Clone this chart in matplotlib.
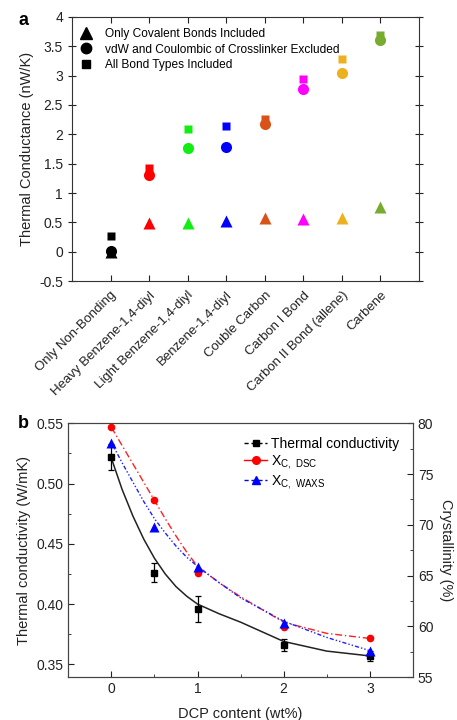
import numpy as np
import matplotlib
matplotlib.use("Agg")
import matplotlib.pyplot as plt
from matplotlib.lines import Line2D

plt.rcParams['font.family'] = ['Liberation Sans', 'DejaVu Sans']
plt.rcParams['mathtext.fontset'] = 'custom'
plt.rcParams['mathtext.rm'] = 'Liberation Sans'

# ---- panel a data
categories = ['Only Non-Bonding', 'Heavy Benzene-1,4-diyl', 'Light Benzene-1,4-diyl',
              'Benzene-1,4-diyl', 'Couble Carbon', 'Carbon I Bond',
              'Carbon II Bond (allene)', 'Carbene']
colors_a = ['#000000', '#ff0000', '#11ee11', '#0000ff', '#d95319', '#ff00ff', '#edb120', '#77ac30']
covalent_only = [0.0, 0.49, 0.49, 0.52, 0.57, 0.56, 0.57, 0.77]
vdw_excluded = [0.01, 1.31, 1.76, 1.79, 2.17, 2.78, 3.04, 3.61]
all_bonds = [0.27, 1.42, 2.09, 2.15, 2.26, 2.95, 3.28, 3.70]

# ---- panel b data
dcp = [0, 0.5, 1, 2, 3]
conductivity = [0.522, 0.426, 0.396, 0.366, 0.357]
conductivity_err = [0.011, 0.008, 0.011, 0.005, 0.004]
xc_dsc = [79.6, 72.4, 65.2, 59.9, 58.8]
xc_waxs = [78.1, 69.8, 65.8, 60.3, 57.6]

# fitted curves
fit_x = [0, 0.125, 0.25, 0.375, 0.5, 0.625, 0.75, 0.875, 1, 1.25, 1.5, 2, 2.5, 3]
fit_cond = [0.521, 0.495, 0.473, 0.454, 0.438, 0.425, 0.4145, 0.4065, 0.400,
            0.392, 0.385, 0.369, 0.361, 0.357]
fit_dsc = [79.6, 77.8, 76.0, 74.2, 72.4, 70.6, 68.9, 67.3, 65.9, 64.3, 62.9, 60.4, 59.3, 58.8]
fit_waxs = [78.1, 76.1, 74.2, 72.3, 70.6, 69.2, 67.9, 66.8, 65.9, 64.3, 62.8, 60.5, 58.9, 57.6]

fig = plt.figure(figsize=(4.57, 7.2), dpi=100)

# ================= panel a
ax = fig.add_axes([0.1575, 0.6097, 0.759, 0.3667])
xs = np.arange(1, len(categories) + 1)
for i in range(len(categories)):
    ax.plot(xs[i], all_bonds[i], 's', color=colors_a[i], ms=6, mec='none')
    ax.plot(xs[i], covalent_only[i], '^', color=colors_a[i], ms=8, mec='none')
    ax.plot(xs[i], vdw_excluded[i], 'o', color=colors_a[i], ms=8, mec='none')

ax.set_xlim(0, 9)
ax.set_ylim(-0.5, 4)
ax.set_yticks(np.arange(-0.5, 4.01, 0.5))
ax.set_yticklabels(['-0.5', '0', '0.5', '1', '1.5', '2', '2.5', '3', '3.5', '4'])
ax.set_xticks(xs)
ax.set_xticklabels(categories, rotation=45, ha='right', rotation_mode='anchor', fontsize=9.5)
ax.tick_params(axis='both', labelsize=10, colors='#222222', direction='in',
               top=True, right=True, length=4)
ax.tick_params(axis='x', labelsize=9.5, pad=6)
ax.tick_params(axis='y', direction='inout', length=6)
for s in ax.spines.values():
    s.set_color('#333333')
ax.set_ylabel('Thermal Conductance (nW/K)', fontsize=10.5, color='#222222')

handles = [Line2D([], [], ls='none', marker='^', color='k', ms=8),
           Line2D([], [], ls='none', marker='o', color='k', ms=7.5),
           Line2D([], [], ls='none', marker='s', color='k', ms=5.5)]
ax.legend(handles, ['Only Covalent Bonds Included',
                    'vdW and Coulombic of Crosslinker Excluded',
                    'All Bond Types Included'],
          loc='upper left', bbox_to_anchor=(-0.003, 0.992), frameon=False,
          fontsize=8.6, handlelength=1.1, handletextpad=1.0, labelspacing=0.3,
          borderaxespad=0.35)
fig.text(0.04, 0.972, 'a', fontsize=13, fontweight='bold', va='center')

# ================= panel b
bx = fig.add_axes([0.1495, 0.0597, 0.754, 0.3524])
bx.plot(fit_x, fit_cond, '-', color='#222222', lw=1.1)
bx.errorbar(dcp, conductivity, yerr=conductivity_err, fmt='s', color='k',
            ms=4.5, capsize=2.2, elinewidth=0.9, capthick=0.9)
bx.set_xlim(-0.5, 3.5)
bx.set_ylim(0.3395, 0.55)
bx.set_xticks([0, 1, 2, 3])
bx.set_xticks([0.5, 1.5, 2.5], minor=True)
bx.set_yticks([0.35, 0.40, 0.45, 0.50, 0.55])
bx.set_yticklabels(['0.35', '0.40', '0.45', '0.50', '0.55'])
bx.set_yticks([0.375, 0.425, 0.475, 0.525], minor=True)
bx.tick_params(which='both', direction='in', labelsize=10, colors='#222222')
bx.tick_params(which='major', length=4)
bx.tick_params(which='minor', length=2.5)
bx.set_xlabel('DCP content (wt%)', fontsize=10.5, color='#222222', labelpad=8)
bx.set_ylabel('Thermal conductivity (W/mK)', fontsize=10.5, color='#222222')

cx = bx.twinx()
cx.plot(fit_x, fit_dsc, color='#ff2020', lw=1, ls=(0, (5, 2, 1, 2)))
cx.plot(fit_x, fit_waxs, color='#2020ff', lw=1, ls=(0, (3, 1.5, 1, 1.5, 1, 1.5)))
cx.plot(dcp, xc_dsc, 'o', color='#ff0000', ms=5.5, mec='none')
cx.plot(dcp, xc_waxs, '^', color='#0000ff', ms=6.5, mec='none')
cx.set_ylim(55, 80)
cx.set_yticks([55, 60, 65, 70, 75, 80])
cx.set_yticks([57.5, 62.5, 67.5, 72.5, 77.5], minor=True)
cx.tick_params(which='both', direction='in', labelsize=10, colors='#222222')
cx.tick_params(which='major', length=4)
cx.tick_params(which='minor', length=2.5)
cx.set_ylabel('Crystallinity (%)', fontsize=10.5, color='#222222', rotation=270, labelpad=14)
for s in list(bx.spines.values()) + list(cx.spines.values()):
    s.set_color('#444444')

hb = [Line2D([], [], color='k', ls=(0, (3, 2)), marker='s', ms=4.5, lw=1),
      Line2D([], [], color='#ff0000', ls='-', marker='o', ms=5.5, lw=1),
      Line2D([], [], color='#0000ff', ls=(0, (3, 2)), marker='^', ms=5.5, lw=1)]
cx.legend(hb, ['Thermal conductivity', r'X$_\mathregular{C,\ DSC}$',
               r'X$_\mathregular{C,\ WAXS}$'],
          loc='upper right', frameon=False, fontsize=10, handlelength=1.6,
          handletextpad=0.3, labelspacing=0.12, borderaxespad=0.6)
fig.text(0.04, 0.412, 'b', fontsize=13, fontweight='bold', va='center')

fig.savefig('out.png', dpi=100)
